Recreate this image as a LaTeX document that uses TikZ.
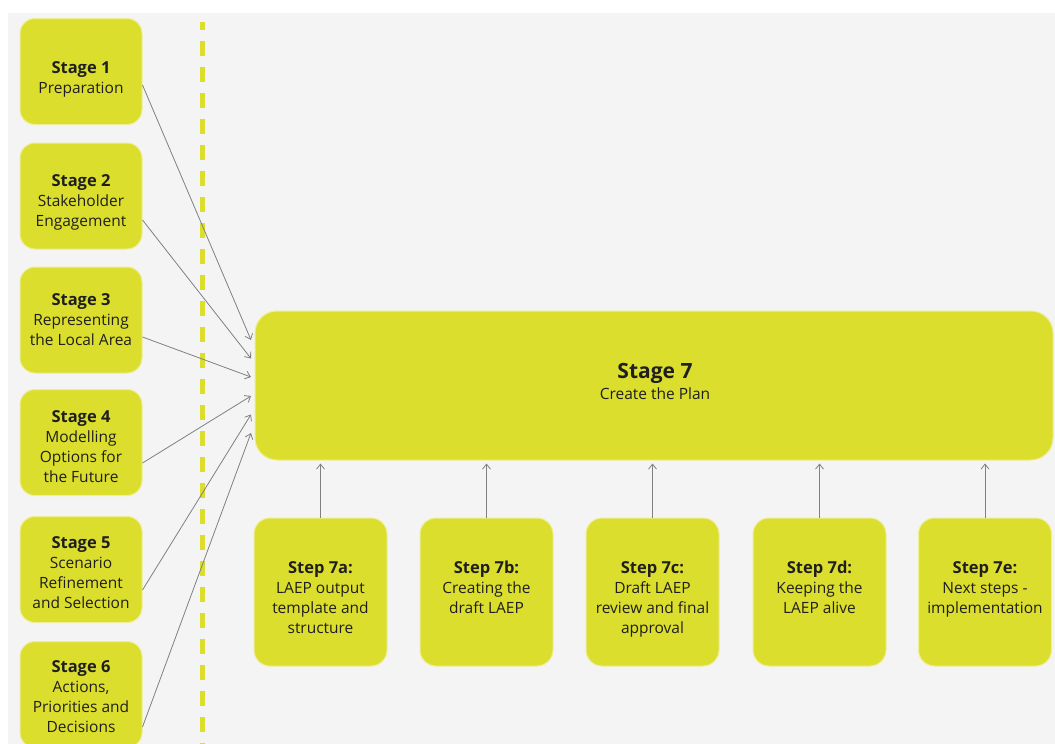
\documentclass[tikz,border=0pt]{standalone}
\usepackage{fontspec}
\setmainfont{Open Sans}
\usetikzlibrary{arrows.meta,calc}
\definecolor{boxyellow}{RGB}{220,222,46}
\definecolor{boxrim}{RGB}{238,238,150}
\definecolor{bggray}{RGB}{244,244,244}
\definecolor{arrowgray}{RGB}{128,128,128}
\newcommand{\ttl}[1]{{\fontsize{16.5}{20}\selectfont\textbf{#1}}}
\begin{document}
\begin{tikzpicture}[x=1pt,y=-1pt,
  stagebox/.style={fill=boxyellow,draw=boxrim,line width=1pt,rounded corners=15pt,inner sep=0pt,minimum width=122pt,minimum height=106pt},
  stepbox/.style={fill=boxyellow,draw=boxrim,line width=1pt,rounded corners=16pt,inner sep=0pt,minimum width=133pt,minimum height=148pt},
  bigbox/.style={fill=boxyellow,draw=boxrim,line width=1pt,rounded corners=22pt,inner sep=0pt,minimum width=798pt,minimum height=149pt},
  txt/.style={align=center,inner sep=0pt,font=\fontsize{15.5}{20}\selectfont,text=black!88},
  conn/.style={draw=arrowgray,line width=0.8pt,-{Straight Barb[length=5pt,width=8pt]}}
]
\useasboundingbox (0,0) rectangle (1055,744);
\clip (0,0) rectangle (1055,744);
\fill[white] (0,0) rectangle (1055,744);
\fill[bggray] (8,13) rectangle (1055,744);
% dashed divider
\draw[boxyellow,line width=5pt,dash pattern=on 15pt off 11pt,dash phase=7pt] (202.5,22) -- (202.5,744);
% stage boxes
\node[stagebox] (s1) at (81,71.5) {};
\node[stagebox] (s2) at (81,196) {};
\node[stagebox] (s3) at (81,320) {};
\node[stagebox] (s4) at (81,442.5) {};
\node[stagebox] (s5) at (81,569.5) {};
\node[stagebox] (s6) at (81,694.5) {};
\node[txt] (s1t) at (81,79) {\ttl{Stage 1}\\Preparation};
\node[txt] (s2t) at (81,202) {\ttl{Stage 2}\\Stakeholder\\Engagement};
\node[txt] (s3t) at (81,320) {\ttl{Stage 3}\\Representing\\the Local Area};
\node[txt] (s4t) at (81,447) {\ttl{Stage 4}\\Modelling\\Options for\\the Future};
\node[txt] (s5t) at (81,573) {\ttl{Stage 5}\\Scenario\\Refinement\\and Selection};
\node[txt] (s6t) at (81,697) {\ttl{Stage 6}\\Actions,\\Priorities and\\Decisions};
% stage 7
\node[bigbox] (s7) at (654,385.5) {};
\node[txt,font=\fontsize{15.5}{21}\selectfont] (s7t) at (655,381) {{\fontsize{21}{21}\selectfont\textbf{Stage 7}}\\Create the Plan};
% steps
\node[stepbox] (t1) at (320.5,592) {};
\node[stepbox] (t2) at (486.5,592) {};
\node[stepbox] (t3) at (652.5,592) {};
\node[stepbox] (t4) at (819.5,592) {};
\node[stepbox] (t5) at (985,592) {};
\node[txt] (t1t) at (320.5,597.5) {\ttl{Step 7a:}\\LAEP output\\template and\\structure};
\node[txt] (t2t) at (486.5,587.5) {\ttl{Step 7b:}\\Creating the\\draft LAEP};
\node[txt] (t3t) at (652.5,599.5) {\ttl{Step 7c:}\\Draft LAEP\\review and final\\approval};
\node[txt] (t4t) at (819.5,587.5) {\ttl{Step 7d:}\\Keeping the\\LAEP alive};
\node[txt] (t5t) at (985,589) {\ttl{Step 7e:}\\Next steps -\\implementation};
% arrow end points on stage 7
\coordinate (e1) at (251,340);
\coordinate (e2) at (251,358.5);
\coordinate (e3) at (251,377);
\coordinate (e4) at (251,396);
\coordinate (e5) at (251,414.5);
\coordinate (e6) at (251,433);
\draw[conn] ([yshift=-13.5pt]s1.east) -- (e1);
\draw[conn] ([yshift=-24pt]s2.east) -- (e2);
\draw[conn] ([yshift=-17pt]s3.east) -- (e3);
\draw[conn] ([yshift=-20.5pt]s4.east) -- (e4);
\draw[conn] ([yshift=-20.5pt]s5.east) -- (e5);
\draw[conn] ([yshift=-32.5pt]s6.east) -- (e6);
% step arrows
\foreach \t in {t1,t2,t3,t4,t5}
  \draw[conn,shorten >=3pt] (\t.north) -- (\t.north |- s7.south);
\end{tikzpicture}
\end{document}
